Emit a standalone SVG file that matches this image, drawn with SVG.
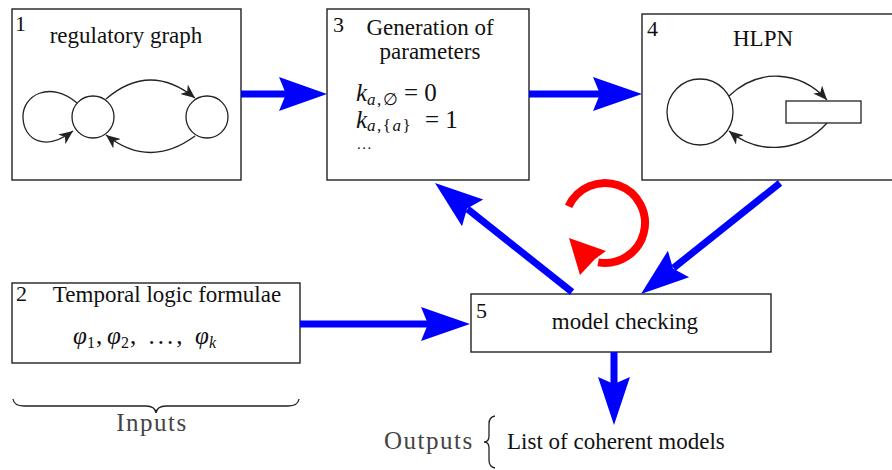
<svg xmlns="http://www.w3.org/2000/svg" width="892" height="470" viewBox="0 0 892 470">
<style>
.box{fill:#fff;stroke:#222;stroke-width:1.4}
.t{font-family:"Liberation Serif","Times New Roman",serif;font-size:23px;fill:#111}
.n{font-family:"Liberation Serif","Times New Roman",serif;font-size:22px;fill:#111}
.m{font-family:"Liberation Serif","Times New Roman",serif;font-size:25px;fill:#111}
.mi{font-style:italic}
.sub{font-size:17px;letter-spacing:1.5px}
.g{font-family:"Liberation Serif","Times New Roman",serif;font-size:25px;letter-spacing:1.5px;fill:#444}
.thin{fill:none;stroke:#222;stroke-width:1.3}
.blue{stroke:#0000ff;stroke-width:7;fill:none}
.bh{fill:#0000ff}
</style>
<defs>
<marker id="ah" markerUnits="userSpaceOnUse" markerWidth="16" markerHeight="12" refX="14" refY="6" orient="auto">
<path d="M0,0 L14,6 L0,12 L4,6 Z" fill="#222"/>
</marker>
</defs>

<g id="node1">
<rect class="box" x="12" y="9" width="229" height="171"/>
<text class="n" x="15" y="31">1</text>
<text class="t" x="126" y="43" text-anchor="middle">regulatory graph</text>
<circle class="thin" cx="93" cy="117" r="21"/>
<circle class="thin" cx="207" cy="117" r="21"/>
<path class="thin" d="M77,103 C50,80 22,95 23,118 C24,140 45,152 73,131" marker-end="url(#ah)"/>
<path class="thin" d="M106,99 C135,74 165,74 195,98" marker-end="url(#ah)"/>
<path class="thin" d="M195,136 C165,158 135,158 106,135" marker-end="url(#ah)"/>
</g>

<g id="node3">
<rect class="box" x="327" y="9" width="202" height="171"/>
<text class="n" x="333" y="32">3</text>
<text class="t" x="430" y="35" text-anchor="middle">Generation of</text>
<text class="t" x="430" y="59" text-anchor="middle">parameters</text>
<text class="m" x="356" y="101"><tspan class="mi">k</tspan><tspan class="sub mi" dy="4">a</tspan><tspan class="sub">,∅</tspan><tspan dy="-4" x="404">= 0</tspan></text>
<text class="m" x="356" y="128"><tspan class="mi">k</tspan><tspan class="sub mi" dy="3">a</tspan><tspan class="sub">,{</tspan><tspan class="sub mi">a</tspan><tspan class="sub">}</tspan><tspan dy="-3" x="425">= 1</tspan></text>
<text x="357" y="149" style="font-family:'Liberation Serif',serif;font-size:15px;letter-spacing:1.5px;fill:#111">...</text>
</g>

<g id="node4">
<rect class="box" x="642" y="14" width="260" height="166"/>
<text class="n" x="647" y="36">4</text>
<text class="t" x="763" y="46" text-anchor="middle">HLPN</text>
<circle class="thin" cx="700" cy="112" r="33"/>
<rect class="thin" x="786" y="101" width="75" height="22"/>
<path class="thin" d="M729,96 C758,68 800,70 827,100" marker-end="url(#ah)"/>
<path class="thin" d="M827,123 C800,153 758,155 729,131" marker-end="url(#ah)"/>
</g>

<g id="node2">
<rect class="box" x="12" y="283" width="288" height="80"/>
<text class="n" x="16" y="301">2</text>
<text class="t" x="167" y="302" text-anchor="middle">Temporal logic formulae</text>
<text class="m" y="344"><tspan class="mi" x="73">φ</tspan><tspan font-size="16" dy="4" x="87">1</tspan><tspan dy="-4" x="96">,</tspan><tspan class="mi" x="107">φ</tspan><tspan font-size="16" dy="4" x="121">2</tspan><tspan dy="-4" x="130" letter-spacing="3">, ...,</tspan><tspan class="mi" x="195">φ</tspan><tspan font-size="16" dy="4" class="mi" x="209">k</tspan></text>
</g>

<g id="node5">
<rect class="box" x="471" y="294" width="300" height="58"/>
<text class="n" x="476" y="318">5</text>
<text class="t" x="625" y="329" text-anchor="middle">model checking</text>
</g>

<g id="inputs">
<path class="thin" d="M13,399 Q14,406 24,406 L146,406 Q155,406 156,413 Q157,406 166,406 L288,406 Q298,406 299,399" stroke-width="1.6"/>
<text class="g" x="152" y="431" text-anchor="middle">Inputs</text>
</g>

<g id="outputs">
<text class="g" x="384" y="449">Outputs</text>
<path class="thin" d="M495,416 Q489,417 489,424 L489,436 Q489,442 484,442 Q489,442 489,448 L489,460 Q489,467 495,468" stroke-width="1.6"/>
<text class="t" x="507" y="449">List of coherent models</text>
</g>

<g id="connectors">
<line class="blue" x1="241" y1="94" x2="287" y2="94"/>
<path class="bh" d="M327,94 L279,77 L286,94 L279,111 Z"/>
<line class="blue" x1="529" y1="94" x2="601" y2="94"/>
<path class="bh" d="M642,94 L593,77 L600,94 L593,111 Z"/>
<line class="blue" x1="300" y1="324" x2="429" y2="324"/>
<path class="bh" d="M470,324 L421,307 L428,324 L421,341 Z"/>
<line class="blue" x1="614" y1="352" x2="614" y2="385"/>
<path class="bh" d="M614,425 L598,377 L614,384 L630,377 Z"/>
<line class="blue" x1="572" y1="292" x2="467.5" y2="209"/>
<path class="bh" d="M435,183 L483.2,199.6 L467.1,208.5 L462,226.2 Z"/>
<line class="blue" x1="780" y1="183" x2="673.5" y2="268"/>
<path class="bh" d="M641,294 L689.1,277.3 L673,268.4 L667.9,250.7 Z"/>
<path d="M568.6,206.4 A40,40 0 1 1 598.1,262.4" fill="none" stroke="#ff0000" stroke-width="8"/>
<path d="M569,238 L606,251 L595,259 L580,275 Z" fill="#ff0000"/>
</g>
</svg>
